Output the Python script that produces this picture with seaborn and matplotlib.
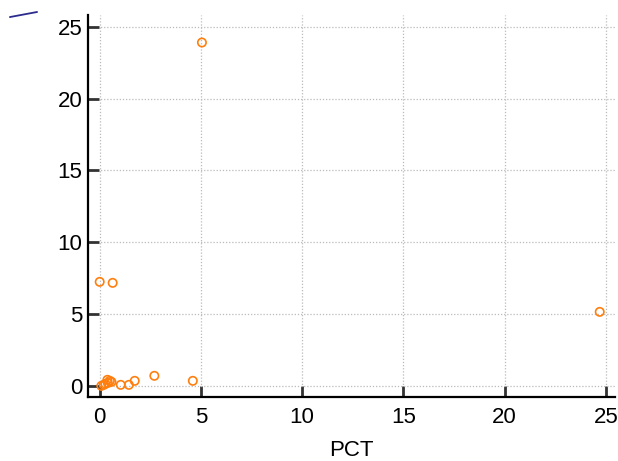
import matplotlib
matplotlib.use("Agg")
import matplotlib.pyplot as plt
import seaborn as sns
import pandas as pd
from matplotlib.lines import Line2D

pct = [0.0, 0.64, 5.05, 24.7, 4.6, 2.7, 1.73, 1.44, 1.04, 0.08, 0.2, 0.28, 0.38, 0.4, 0.5, 0.58]
val = [7.24, 7.17, 23.9, 5.15, 0.35, 0.7, 0.35, 0.07, 0.07, 0.0, 0.07, 0.14, 0.42, 0.2, 0.35, 0.28]
xticks = [0, 5, 10, 15, 20, 25]
yticks = [0, 5, 10, 15, 20, 25]

df = pd.DataFrame({"PCT": pct, "value": val})

sns.set_style("white")
plt.rcParams['font.family'] = ['Liberation Sans', 'DejaVu Sans']
plt.rcParams['text.color'] = 'black'
plt.rcParams['axes.labelcolor'] = 'black'
plt.rcParams['xtick.color'] = 'black'
plt.rcParams['ytick.color'] = 'black'

fig = plt.figure(figsize=(6.18, 4.61), dpi=100)
ax = fig.add_axes([0.142, 0.139, 0.853, 0.828])

sns.scatterplot(data=df, x="PCT", y="value", ax=ax, marker="o", s=36,
                facecolor="none", edgecolor="#ff7f0e", linewidth=1.2, zorder=3)

ax.set_xlim(-0.59, 25.45)
ax.set_ylim(-0.77, 25.8)
ax.set_xticks(xticks)
ax.set_yticks(yticks)
ax.set_xlabel("PCT", fontsize=16, labelpad=9)
ax.set_ylabel("")
ax.grid(True, color="#bbbbbb", linestyle=(0, (1, 1.5)), linewidth=0.9)
ax.set_axisbelow(True)
for s in ["top", "right"]:
    ax.spines[s].set_visible(False)
for s in ["left", "bottom"]:
    ax.spines[s].set_color("black")
    ax.spines[s].set_linewidth(1.6)
ax.tick_params(axis="both", which="major", bottom=True, left=True, direction="in",
               length=8, width=2, color="#333333", labelsize=16,
               labelcolor="black")
ax.tick_params(axis="y", pad=4)
ax.tick_params(axis="x", pad=7)

fig.add_artist(Line2D([0.016, 0.06], [0.963, 0.974], color="#2b2b8c", linewidth=1.3))

fig.savefig("out.png", dpi=100)
